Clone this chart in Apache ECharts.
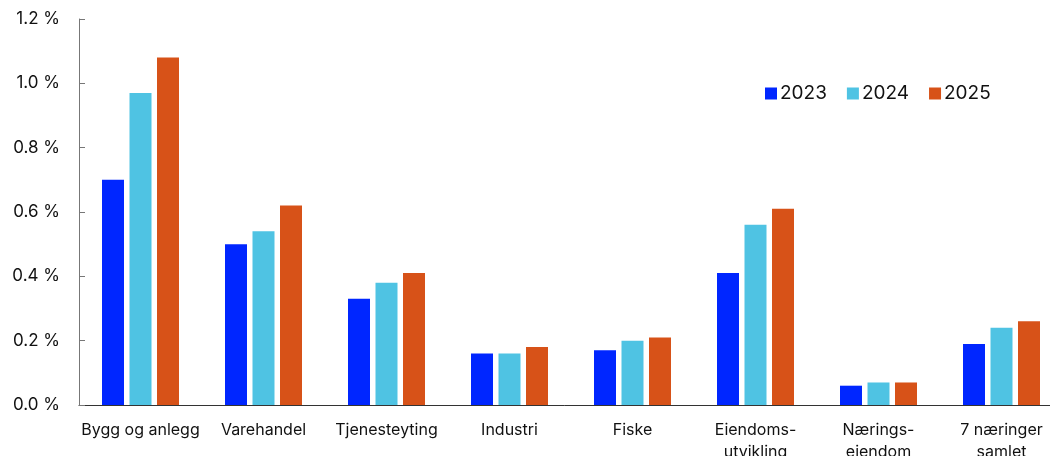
<!DOCTYPE html>
<html><head><meta charset="utf-8">
<script src="https://cdn.jsdelivr.net/npm/echarts@6/dist/echarts.min.js"></script>
<style>html,body{margin:0;padding:0;background:#fff}#c{width:1050px;height:456px}</style>
</head><body><div id="c"></div>
<script>
const categories = ['Bygg og anlegg','Varehandel','Tjenesteyting','Industri','Fiske','Eiendoms-\nutvikling','Nærings-\neiendom','7 næringer\nsamlet'];
const s2023 = [0.70,0.50,0.33,0.16,0.17,0.41,0.06,0.19];
const s2024 = [0.97,0.54,0.38,0.16,0.20,0.56,0.07,0.24];
const s2025 = [1.08,0.62,0.41,0.18,0.21,0.61,0.07,0.26];
const seriesNames = ['2023','2024','2025'];
const colors = ['#0026FF','#4FC3E3','#D75218'];
const font = 'Inter';
const chart = echarts.init(document.getElementById('c'));
const data = [s2023,s2024,s2025];
chart.setOption({
  animation:false,
  grid:{left:79,top:19,bottom:51,width:984,outerBoundsMode:'none',containLabel:false},
  legend:{left:760,top:79,itemWidth:12,itemHeight:12,itemGap:20,icon:'rect',
    textStyle:{fontFamily:font,fontSize:19,color:'#111',padding:[0,0,0,-2]},data:seriesNames},
  xAxis:{type:'category',data:categories,
    axisLine:{lineStyle:{color:'#333',width:1}},
    axisTick:{inside:true,length:5,lineStyle:{color:'#333'}},
    axisLabel:{fontFamily:font,fontSize:16,color:'#111',margin:14,lineHeight:22,interval:0}},
  yAxis:{type:'value',min:0,max:1.2,interval:0.2,
    axisLine:{show:true,lineStyle:{color:'#777'}},
    axisTick:{show:true,inside:true,length:6,lineStyle:{color:'#777'}},
    splitLine:{show:false},
    axisLabel:{fontFamily:font,fontSize:17,color:'#111',margin:19,
      formatter:v=>v.toFixed(1)+' %'}},
  series:seriesNames.map((n,i)=>({name:n,type:'bar',data:data[i],barWidth:22,barGap:'25%',
    itemStyle:{color:colors[i]}}))
});
</script></body></html>
